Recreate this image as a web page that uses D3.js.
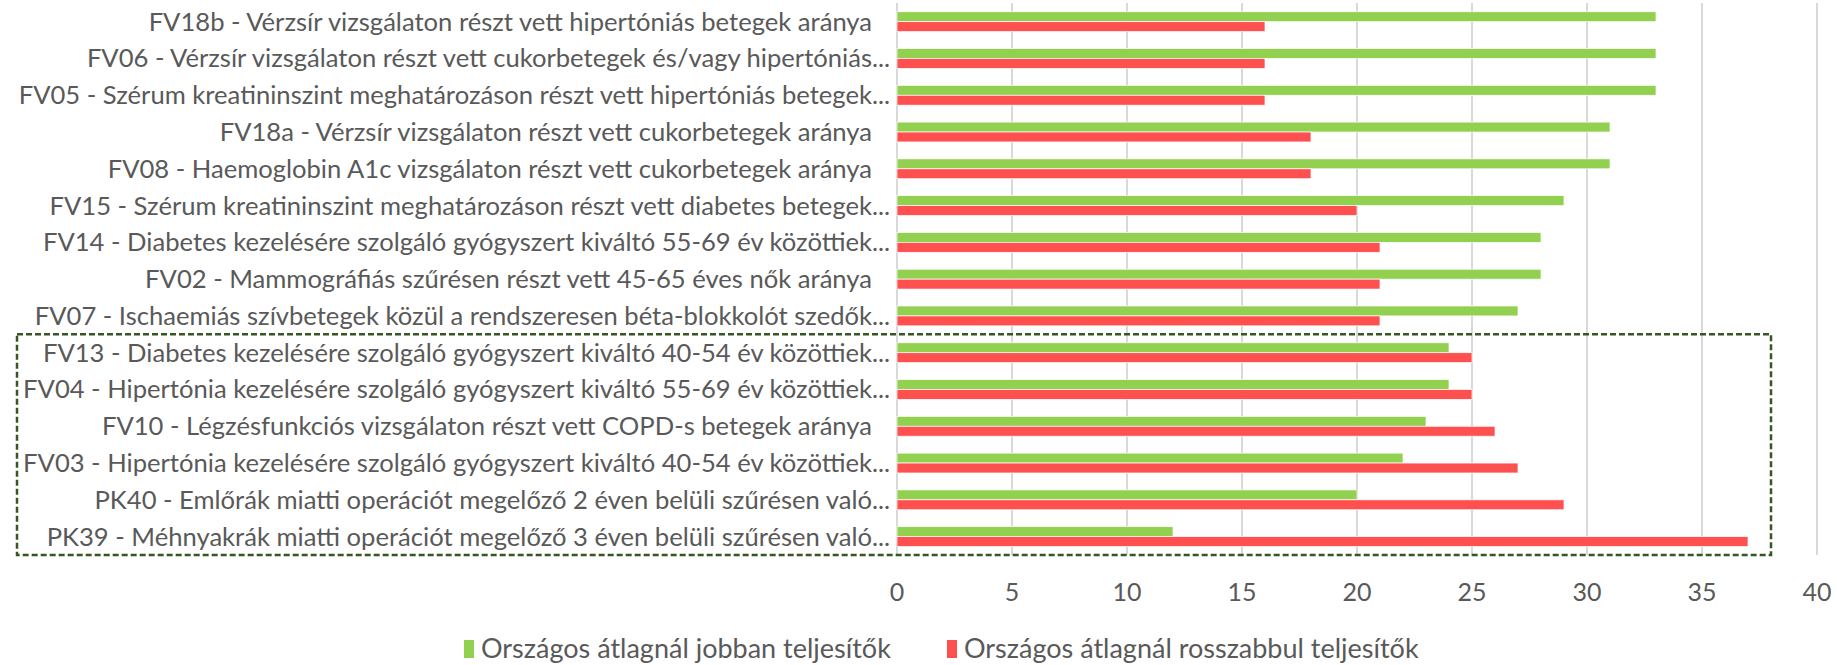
<!DOCTYPE html>
<html>
<head>
<meta charset="utf-8">
<script src="https://cdn.jsdelivr.net/npm/d3@7"></script>
<style>
  body { margin: 0; background: #fff; }
  text { font-family: Lato, "Open Sans", sans-serif; fill: #595959; }
</style>
</head>
<body>
<script>
var width = 1837, height = 665;

// indicator labels, top to bottom ("..." = cut off in the original)
var categories = [
  "FV18b - Vérzsír vizsgálaton részt vett hipertóniás betegek aránya",
  "FV06 - Vérzsír vizsgálaton részt vett cukorbetegek és/vagy hipertóniás...",
  "FV05 - Szérum kreatininszint meghatározáson részt vett hipertóniás betegek...",
  "FV18a - Vérzsír vizsgálaton részt vett cukorbetegek aránya",
  "FV08 - Haemoglobin A1c vizsgálaton részt vett cukorbetegek aránya",
  "FV15 - Szérum kreatininszint meghatározáson részt vett diabetes betegek...",
  "FV14 - Diabetes kezelésére szolgáló gyógyszert kiváltó 55-69 év közöttiek...",
  "FV02 - Mammográfiás szűrésen részt vett 45-65 éves nők aránya",
  "FV07 - Ischaemiás szívbetegek közül a rendszeresen béta-blokkolót szedők...",
  "FV13 - Diabetes kezelésére szolgáló gyógyszert kiváltó 40-54 év közöttiek...",
  "FV04 - Hipertónia kezelésére szolgáló gyógyszert kiváltó 55-69 év közöttiek...",
  "FV10 - Légzésfunkciós vizsgálaton részt vett COPD-s betegek aránya",
  "FV03 - Hipertónia kezelésére szolgáló gyógyszert kiváltó 40-54 év közöttiek...",
  "PK40 - Emlőrák miatti operációt megelőző 2 éven belüli szűrésen való...",
  "PK39 - Méhnyakrák miatti operációt megelőző 3 éven belüli szűrésen való..."
];
var better = [33, 33, 33, 31, 31, 29, 28, 28, 27, 24, 24, 23, 22, 20, 12];
var worse  = [16, 16, 16, 18, 18, 20, 21, 21, 21, 25, 25, 26, 27, 29, 37];
var seriesNames = ["Országos átlagnál jobban teljesítők", "Országos átlagnál rosszabbul teljesítők"];
var colors = ["#92d050", "#ff5050"];
var ticks = [0, 5, 10, 15, 20, 25, 30, 35, 40];

var svg = d3.select("body").append("svg")
    .attr("width", width)
    .attr("height", height);

var x = d3.scaleLinear().domain([0, 40]).range([897, 1817]);
var y = d3.scaleBand().domain(categories).range([3.3, 555])
    .paddingInner(0.46).paddingOuter(0.23);
var y1 = d3.scaleBand().domain([0, 1]).range([0, y.bandwidth()]);

// gridlines
svg.append("g").selectAll("line")
    .data(ticks)
    .enter().append("line")
    .attr("x1", d => x(d)).attr("x2", d => x(d))
    .attr("y1", 3).attr("y2", 555)
    .style("stroke", "#d9d9d9")
    .style("stroke-width", 2);

// tick labels
svg.append("g").selectAll("text")
    .data(ticks)
    .enter().append("text")
    .attr("x", d => x(d))
    .attr("y", 592)
    .attr("dy", "0.35em")
    .attr("text-anchor", "middle")
    .style("font-size", "25px")
    .text(d => d);

// bars
var rows = svg.append("g").selectAll("g")
    .data(categories)
    .enter().append("g")
    .attr("transform", d => "translate(0," + y(d) + ")");

rows.each(function(d, i){
    var vals = [better[i], worse[i]];
    d3.select(this).selectAll("rect")
        .data(vals)
        .enter().append("rect")
        .attr("x", x(0))
        .attr("y", (v, j) => y1(j))
        .attr("width", v => x(v) - x(0))
        .attr("height", y1.bandwidth())
        .style("fill", (v, j) => colors[j])
        .style("stroke", "#fff")
        .style("stroke-width", 0.7);
});

// category labels, the ellipsis hangs past the right edge like in excel
var labelEdge = 872;
rows.append("text")
    .attr("x", labelEdge)
    .attr("y", y.bandwidth() / 2)
    .attr("dy", "0.35em")
    .attr("text-anchor", "end")
    .style("font-size", "25.6px")
    .text(d => d.replace(/\.\.\.$/, ""));
rows.filter(d => /\.\.\.$/.test(d)).append("text")
    .attr("x", labelEdge)
    .attr("y", y.bandwidth() / 2)
    .attr("dy", "0.35em")
    .style("font-size", "25.6px")
    .text("...");

// dashed box around rows where worse > better
var hl = categories.filter((c, i) => worse[i] > better[i]);
var boxTop = y(hl[0]) - y.step() * y.paddingInner() / 2;
svg.append("rect")
    .attr("x", 17)
    .attr("y", boxTop)
    .attr("width", x(38) - 17)
    .attr("height", 555 - boxTop)
    .style("fill", "none")
    .style("stroke", "#375623")
    .style("stroke-width", 2.5)
    .style("stroke-dasharray", "6,3");

// legend
var legendX = [464, 947];
var legend = svg.append("g").selectAll("g")
    .data(seriesNames)
    .enter().append("g")
    .attr("transform", (d, i) => "translate(" + legendX[i] + ",649)");
legend.append("rect")
    .attr("x", 0).attr("y", -9)
    .attr("width", 10).attr("height", 18)
    .style("fill", (d, i) => colors[i]);
legend.append("text")
    .attr("x", 17)
    .attr("dy", "0.35em")
    .style("font-size", "27px")
    .text(d => d);
</script>
</body>
</html>
